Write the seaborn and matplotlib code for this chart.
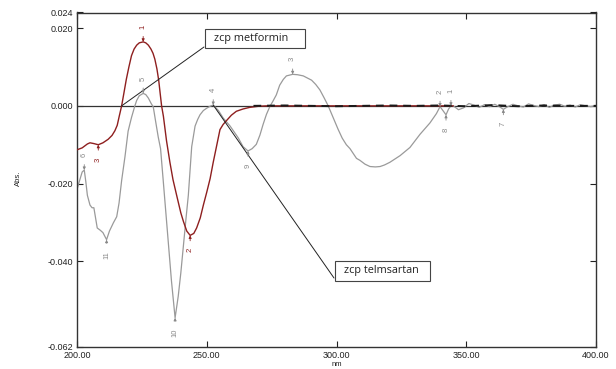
import numpy as np
import pandas as pd
import seaborn as sns
import matplotlib
matplotlib.use("Agg")
import matplotlib.pyplot as plt
from matplotlib.patches import Rectangle

# ---------------- data ----------------
met_x = [200, 202, 204, 205, 206.5, 208.2, 210, 212, 213.5, 214.6, 215.5, 216.3, 217.2, 218, 219,
         220, 221, 222, 223, 224, 225.5, 226.5, 227.5, 228.5, 229.3, 230, 230.8, 231.5, 232,
         232.6, 233.3, 234.5, 235.8, 237, 238.4, 240, 241, 242.3, 243.6, 245, 246.1, 247.5, 248.7,
         250, 251.3, 252.5, 253.8, 255.1, 256.3, 257.6, 259.5, 261.4, 264, 266.5, 270, 273, 300, 345]
met_y = [-0.0113, -0.0108, -0.0098, -0.0095, -0.0097, -0.0100, -0.0095, -0.0086, -0.0076, -0.0064,
         -0.0050, -0.0026, 0.0000, 0.0030, 0.0068, 0.0100, 0.0129, 0.0146, 0.0156, 0.0162, 0.01645,
         0.0162, 0.0156, 0.0146, 0.0135, 0.0120, 0.0095, 0.0065, 0.0035, 0.0000, -0.0027, -0.0090,
         -0.0145, -0.0190, -0.0230, -0.0275, -0.0297, -0.0322, -0.0333, -0.0328, -0.0314, -0.0288,
         -0.0255, -0.0222, -0.0187, -0.0145, -0.0103, -0.0061, -0.0048, -0.0038, -0.0024, -0.0014,
         -0.0008, -0.0004, -0.0001, 0.0, 0.0, 0.0]

tel_x = [200, 201, 202, 202.8, 203.4, 204, 205, 205.8, 206.5, 207.2, 207.8, 209, 210, 211.4,
         212.5, 214, 215.3, 216.2, 217.2, 218.5, 219.7, 221, 222.3, 223, 224, 225.5, 226.5, 227.5,
         228.5, 229.4, 230.3, 231.3, 232.2, 233.2, 234.8, 236.4, 237.8, 239, 240, 241, 242, 242.9,
         244.2, 245.5, 246.5, 247.4, 248.7, 250, 251.3, 252.5, 254.5, 256.3, 259, 262.1, 264,
         265.9, 267.5, 269.1, 270.5, 271.7, 273, 274.3, 275.5, 276.8, 278.1, 279.5, 280.7, 283.1,
         285, 287.2, 290.4, 292, 293.6, 295.2, 296.8, 298.7, 300.6, 302.2, 303.8, 305.2, 307.7,
         309, 311, 312.9, 315, 316.8, 318.5, 320.6, 324.5, 328.3, 332.2, 336, 338.5, 339.9, 341,
         342.2, 343.2, 344.1]
tel_y = [-0.0215, -0.0192, -0.0170, -0.0165, -0.0195, -0.0230, -0.0255, -0.0262, -0.0262,
         -0.0290, -0.0314, -0.0320, -0.0326, -0.0344, -0.0322, -0.0301, -0.0285, -0.0250, -0.0192,
         -0.0130, -0.0065, -0.0030, 0.0000, 0.0014, 0.0026, 0.0032, 0.0029, 0.0020, 0.0007,
         -0.0003, -0.0040, -0.0080, -0.0110, -0.0190, -0.0320, -0.0450, -0.0545, -0.0490, -0.0430,
         -0.0360, -0.0290, -0.0230, -0.0105, -0.0052, -0.0035, -0.0023, -0.0012, -0.0006, -0.0001,
         0.0002, -0.0012, -0.0031, -0.0052, -0.0082, -0.0105, -0.0116, -0.0110, -0.0099, -0.0075,
         -0.0048, -0.0022, -0.0002, 0.0012, 0.0028, 0.0053, 0.0068, 0.0077, 0.0081, 0.0080, 0.0077,
         0.0066, 0.0055, 0.0041, 0.0021, 0.0000, -0.0030, -0.0060, -0.0083, -0.0100, -0.0110,
         -0.0135, -0.0140, -0.0150, -0.0156, -0.0157, -0.0156, -0.0152, -0.0145, -0.0128, -0.0107,
         -0.0073, -0.0044, -0.0020, -0.0002, -0.0012, -0.0023, -0.0008, 0.0000]

noise_x = [345, 347, 349, 351, 353, 355, 357, 359, 361, 363, 364.3, 366, 368, 370, 372, 374, 376,
           378, 380, 382, 384, 386, 388, 390, 392, 394, 396, 398, 400]
noise_y = [0.0000, -0.0010, -0.0005, 0.0006, 0.0002, -0.0004, 0.0003, -0.0002, 0.0004, -0.0003,
           -0.0009, -0.0002, 0.0004, 0.0000, -0.0003, 0.0005, 0.0001, -0.0002, 0.0003, -0.0004,
           0.0002, 0.0004, -0.0001, 0.0002, -0.0003, 0.0003, 0.0000, -0.0002, 0.0001]

dash_x = [268, 280, 290, 300, 310, 320, 330, 340, 350, 360, 370, 380, 390, 400]
dash_y = [0.0, 0.0001, 0.0, -0.0001, 0.0, 0.0001, 0.0, 0.0001, -0.0001, 0.0002, -0.0001, 0.0001, 0.0, 0.0]

# peak / valley markers
met_marks_x = [225.5, 208.2, 243.6]
met_marks_y = [0.01645, -0.0100, -0.0333]
met_marks_lbl = ["1", "3", "2"]
met_marks_up = [True, False, False]

tel_marks_x = [202.8, 211.4, 225.5, 237.8, 252.5, 265.9, 283.1, 339.9, 342.2, 344.1, 364.3]
tel_marks_y = [-0.0165, -0.0344, 0.0032, -0.0545, 0.0002, -0.0116, 0.0081, -0.0002, -0.0023, 0.0000, -0.0009]
tel_marks_lbl = ["6", "11", "5", "10", "4", "9", "3", "2", "8", "1", "7"]
tel_marks_up = [True, False, True, False, True, False, True, True, False, True, False]

x_ticks = [200, 250, 300, 350, 400]
x_ticklabels = ["200.00", "250.00", "300.00", "350.00", "400.00"]
y_ticks = [0.024, 0.020, 0.000, -0.020, -0.040, -0.062]
y_ticklabels = ["0.024", "0.020", "0.000", "-0.020", "-0.040", "-0.062"]

RED = "#8e1f1f"
GRAY = "#9a9a9a"

# ---------------- figure ----------------
sns.set_theme(style="ticks")
plt.rcParams["font.family"] = ["Liberation Sans", "DejaVu Sans"]

W, H = 616, 369
fig = plt.figure(figsize=(W / 100, H / 100), dpi=100)
ax = fig.add_axes([77 / W, 1 - 347 / H, (596 - 77) / W, (347 - 12.5) / H])

ax.axhline(0, color="#333333", lw=0.9, zorder=1)
sns.lineplot(x=tel_x, y=tel_y, ax=ax, color=GRAY, lw=0.9, estimator=None, sort=False, zorder=2)
sns.lineplot(x=noise_x, y=noise_y, ax=ax, color=GRAY, lw=0.9, estimator=None, sort=False, zorder=2)
sns.lineplot(x=met_x, y=met_y, ax=ax, color=RED, lw=1.0, estimator=None, sort=False, zorder=3)
ax.plot(dash_x, dash_y, color="#1a1a1a", lw=1.4, ls=(0, (4, 3)), zorder=4)

ax.set_xlim(200, 400)
ax.set_ylim(-0.062, 0.024)
ax.set_xticks(x_ticks)
ax.set_xticklabels(x_ticklabels)
ax.set_yticks(y_ticks)
ax.set_yticklabels(y_ticklabels)
ax.set_xlabel("")
ax.set_ylabel("")
ax.tick_params(direction="in", top=True, right=True, length=4, width=0.8,
               labelsize=6.5, colors="#222222", pad=3)
for s in ax.spines.values():
    s.set_color("#333333")
    s.set_linewidth(1.0)


def mark(x, y, lbl, color, up):
    off = 15 if up else -15
    ax.annotate(lbl, xy=(x, y), xytext=(0, off), textcoords="offset pixels",
                rotation=90, ha="center", va="center", fontsize=5.5, color=color,
                arrowprops=dict(arrowstyle="-|>", color=color, lw=0.6, mutation_scale=4,
                                shrinkA=3, shrinkB=0), zorder=6)


for x, y, l, u in zip(met_marks_x, met_marks_y, met_marks_lbl, met_marks_up):
    mark(x, y, l, RED, u)
for x, y, l, u in zip(tel_marks_x, tel_marks_y, tel_marks_lbl, tel_marks_up):
    mark(x, y, l, "#888888", u)


def callout(text, box, anchor_fig, target):
    x0, y0, x1, y1 = box  # pixel coords from top-left
    ax.annotate("", xy=target, xycoords="data",
                xytext=(anchor_fig[0] / W, 1 - anchor_fig[1] / H), textcoords="figure fraction",
                arrowprops=dict(arrowstyle="-", color="#222222", lw=0.7, shrinkA=0, shrinkB=0))
    rect = Rectangle((x0 / W, 1 - y1 / H), (x1 - x0) / W, (y1 - y0) / H,
                     transform=fig.transFigure, fc="white", ec="#444444", lw=0.8, zorder=5)
    fig.add_artist(rect)
    fig.text((x0 + 9) / W, 1 - (y0 + y1) / 2 / H, text, ha="left", va="center",
             fontsize=7.8, family=["Open Sans", "DejaVu Sans"], color="#222222", zorder=6)


callout("zcp metformin", (205, 29, 305, 48), (204, 47), (217.2, 0.0))
callout("zcp telmsartan", (335, 261, 430, 281), (334, 278), (252.5, 0.0002))

fig.text(18 / W, 1 - 178 / H, "Abs.", rotation=90, fontsize=5.5, ha="center", va="center",
         color="#222222")
fig.text(337 / W, 1 - 364 / H, "nm", fontsize=5.5, ha="center", va="center", color="#222222")

fig.savefig("out.png", dpi=100)
